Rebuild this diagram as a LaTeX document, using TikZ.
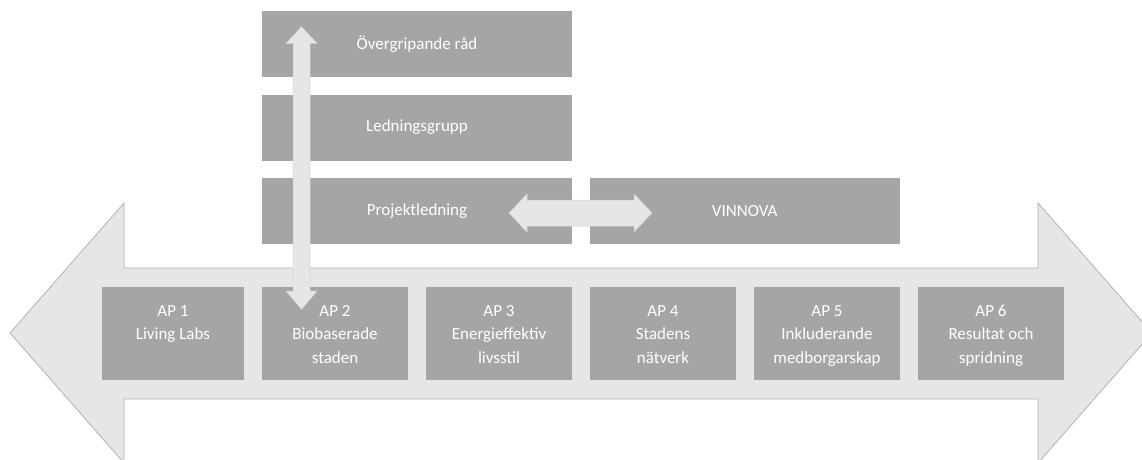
\documentclass[tikz,border=0pt]{standalone}
\usepackage{fontspec}
\setmainfont{Carlito}
\usetikzlibrary{calc}
\definecolor{boxgray}{HTML}{A5A5A5}
\definecolor{arrowfill}{HTML}{E6E6E6}
\definecolor{arrowline}{HTML}{B2B2B2}
\definecolor{smallline}{HTML}{D2D2D2}
\begin{document}
\begin{tikzpicture}[x=1pt,y=-1pt,
  box/.style={fill=boxgray, draw=none, inner sep=0pt, text=white,
    font=\fontsize{17}{23.5}\selectfont},
  topbox/.style={box, minimum width=310pt, minimum height=66pt},
  apbox/.style={box, minimum width=146pt, minimum height=93.3pt},
  aplbl/.style={text=white, font=\fontsize{17}{23.5}\selectfont, align=center,
    inner sep=0pt, anchor=north},
  bigarrow/.style={fill=arrowfill, draw=arrowline, line width=0.8pt, line join=miter},
  blockarrow/.style={fill=arrowfill, draw=smallline, line width=0.5pt, line join=miter}]
\useasboundingbox (0,0) rectangle (1142,460);
\clip (0,0) rectangle (1142,460);

% big double arrow (timeline)
\coordinate (lt) at (10,333);
\coordinate (rt) at (1152,333);
\draw[bigarrow] (lt) -- (124,203) -- (124,268) -- (1038,268) -- (1038,203) -- (rt)
  -- (1038,463) -- (1038,399) -- (124,399) -- (124,463) -- cycle;

% top boxes
\node[topbox] (rad) at (417,44) {Övergripande råd};
\node[topbox] (led) at (417,127.5) {Ledningsgrupp};
\node[topbox] (proj) at (417,211) {Projektledning};
\node[box, minimum width=309.5pt, minimum height=66pt] (vin) at (744.75,211) {VINNOVA};

% AP boxes
\node[apbox, minimum width=142pt] (ap1) at (173,333.3) {};
\node[apbox] (ap2) at (335,333.3) {};
\node[apbox] (ap3) at (499,333.3) {};
\node[apbox] (ap4) at (663,333.3) {};
\node[apbox] (ap5) at (827,333.3) {};
\node[apbox] (ap6) at (991,333.3) {};
\node[aplbl] (t1) at (173,299.5) {\strut AP 1\\Living Labs};
\node[aplbl] (t2) at (335,299.5) {\strut AP 2\\Biobaserade\\staden};
\node[aplbl] (t3) at (499,299.5) {\strut AP 3\\Energieffektiv\\livsstil};
\node[aplbl] (t4) at (663,299.5) {\strut AP 4\\Stadens\\nätverk};
\node[aplbl] (t5) at (827,299.5) {\strut AP 5\\Inkluderande\\medborgarskap};
\node[aplbl] (t6) at (991,299.5) {\strut AP 6\\Resultat och\\spridning};

% vertical double block arrow (rad <-> ap2)
\coordinate (vtop) at (301.5,26.7);
\coordinate (vbot) at (301.5,309.3);
\draw[blockarrow] (vtop) -- ($(vtop)+(15.5,16.6)$) -- ($(vtop)+(8.5,16.6)$)
  -- ($(vbot)+(8.5,-18.3)$) -- ($(vbot)+(15.5,-18.3)$) -- (vbot)
  -- ($(vbot)+(-15.5,-18.3)$) -- ($(vbot)+(-8.5,-18.3)$)
  -- ($(vtop)+(-8.5,16.6)$) -- ($(vtop)+(-15.5,16.6)$) -- cycle;

% horizontal double block arrow (proj <-> vin)
\coordinate (hl) at (509,213);
\coordinate (hr) at (652,213);
\draw[blockarrow] (hl) -- ($(hl)+(18,-19)$) -- ($(hl)+(18,-13)$)
  -- ($(hr)+(-18,-13)$) -- ($(hr)+(-18,-19)$) -- (hr)
  -- ($(hr)+(-18,19)$) -- ($(hr)+(-18,13)$)
  -- ($(hl)+(18,13)$) -- ($(hl)+(18,19)$) -- cycle;
\end{tikzpicture}
\end{document}
